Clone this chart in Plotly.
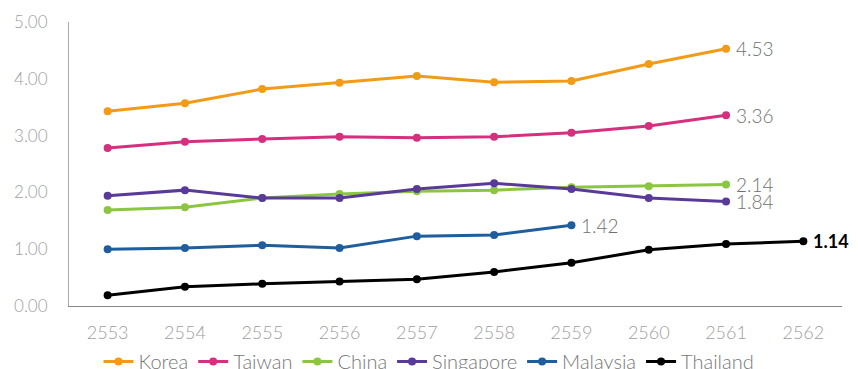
import plotly.graph_objects as go

years = [2553, 2554, 2555, 2556, 2557, 2558, 2559, 2560, 2561, 2562]
korea = [3.43, 3.57, 3.82, 3.93, 4.05, 3.94, 3.96, 4.26, 4.53]
taiwan = [2.78, 2.89, 2.94, 2.98, 2.96, 2.98, 3.05, 3.17, 3.36]
china = [1.69, 1.74, 1.90, 1.97, 2.02, 2.04, 2.09, 2.11, 2.14]
singapore = [1.94, 2.04, 1.90, 1.90, 2.06, 2.16, 2.06, 1.90, 1.84]
malaysia = [1.00, 1.02, 1.07, 1.02, 1.23, 1.25, 1.42]
thailand = [0.19, 0.34, 0.39, 0.43, 0.47, 0.60, 0.76, 0.99, 1.09, 1.14]

series = [
    ("Korea", korea, "#F39A17"),
    ("Taiwan", taiwan, "#D4307E"),
    ("China", china, "#8CC641"),
    ("Singapore", singapore, "#5A3A98"),
    ("Malaysia", malaysia, "#1E5E9E"),
    ("Thailand", thailand, "#000000"),
]

fig = go.Figure()
for name, vals, color in series:
    xs = years[:len(vals)]
    fig.add_trace(go.Scatter(
        x=xs, y=vals, name=name, mode="lines+markers",
        line=dict(color=color, width=3), marker=dict(color=color, size=8),
    ))
    last = vals[-1]
    is_th = name == "Thailand"
    fig.add_annotation(
        x=xs[-1], y=last, text=f"{last:.2f}", showarrow=False,
        xanchor="left", yanchor="middle", xshift=8,
        font=dict(family="Lato", size=19 if not is_th else 18,
                  color="#000000" if is_th else "#707070",
                  weight="bold" if is_th else 300),
    )

fig.update_layout(
    width=858, height=369,
    margin=dict(l=69, r=16, t=22, b=63, autoexpand=False),
    paper_bgcolor="white", plot_bgcolor="white",
    font=dict(family="Lato", color="#999999", size=17, weight=300),
    showlegend=True,
    legend=dict(orientation="h", x=0.5, xanchor="center", xref="container",
                y=0.02, yanchor="middle", yref="container",
                font=dict(size=20, color="#777777", weight=300), itemwidth=30,
                tracegroupgap=0),
    xaxis=dict(range=[2552.5, 2562.5], tickvals=years, ticktext=[str(y) for y in years],
               showline=True, linecolor="#888888", linewidth=1,
               showgrid=False, zeroline=False, ticks="", ticklabelstandoff=10,
               tickfont=dict(size=18, color="#A0A0A0")),
    yaxis=dict(range=[0, 5], dtick=1, tickformat=".2f", showline=True,
               linecolor="#AAAAAA", linewidth=1, showgrid=False, zeroline=False,
               ticks="", ticklabelstandoff=17, tickfont=dict(size=17, color="#A0A0A0")),
)

fig.write_html("out.html")
